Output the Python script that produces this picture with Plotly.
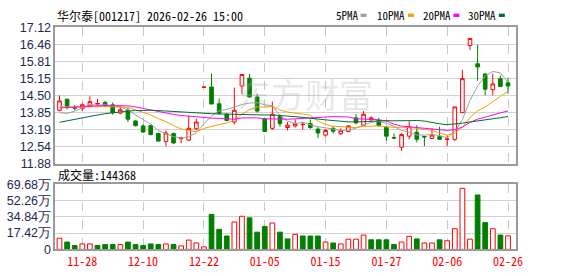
import plotly.graph_objects as go
import pandas as pd

# ---------------- data ----------------
dates = ["11-25", "11-26", "11-27", "11-28", "12-01", "12-02", "12-03", "12-04", "12-05", "12-08",
         "12-09", "12-10", "12-11", "12-12", "12-15", "12-16", "12-17", "12-18", "12-19", "12-22",
         "12-23", "12-24", "12-25", "12-26", "12-29", "12-30", "12-31", "01-05", "01-06", "01-07",
         "01-08", "01-09", "01-12", "01-13", "01-14", "01-15", "01-16", "01-19", "01-20", "01-21",
         "01-22", "01-23", "01-26", "01-27", "01-28", "01-29", "01-30", "02-02", "02-03", "02-04",
         "02-05", "02-06", "02-09", "02-10", "02-11", "02-12", "02-13", "02-24", "02-25", "02-26"]

open_ = [13.94, 14.36, 14.06, 14.00, 14.11, 14.18, 14.24, 14.15, 13.83, 13.94,
         13.53, 13.34, 13.36, 13.05, 12.75, 13.05, 12.86, 12.80, 13.23, 14.82,
         14.83, 14.19, 13.79, 13.49, 14.87, 15.17, 14.45, 13.61, 13.25, 13.70,
         13.28, 13.34, 13.39, 13.43, 13.22, 12.99, 13.25, 13.04, 13.13, 13.65,
         13.37, 13.58, 13.55, 13.29, 12.89, 12.53, 12.95, 13.10, 12.94, 12.86,
         12.93, 12.82, 12.83, 13.85, 16.42, 15.72, 15.33, 14.73, 15.15, 14.99]
high = [14.51, 14.39, 14.15, 14.21, 14.47, 14.37, 14.31, 14.24, 14.12, 14.03,
        13.56, 13.40, 13.40, 13.08, 13.17, 13.08, 12.93, 13.73, 13.61, 14.83,
        15.35, 14.39, 13.82, 14.81, 15.31, 15.33, 14.57, 13.62, 14.27, 13.79,
        13.49, 13.59, 13.49, 13.59, 13.29, 13.22, 13.35, 13.25, 13.37, 13.79,
        13.91, 13.71, 13.65, 13.33, 13.05, 13.07, 13.52, 13.37, 12.95, 13.25,
        13.31, 12.98, 14.07, 15.49, 16.69, 16.45, 15.35, 15.35, 15.27, 15.19]
low = [13.90, 13.97, 13.94, 13.91, 14.07, 14.11, 14.06, 13.77, 13.79, 13.49,
       13.33, 13.07, 12.98, 12.74, 12.56, 12.64, 12.68, 12.77, 13.17, 14.82,
       14.18, 13.77, 13.52, 13.40, 14.55, 14.42, 13.85, 13.11, 13.19, 13.31,
       13.17, 13.28, 13.19, 13.23, 12.88, 12.93, 13.05, 13.01, 13.10, 13.40,
       13.35, 13.52, 13.33, 12.77, 12.83, 12.38, 12.83, 12.71, 12.57, 12.85,
       12.82, 12.57, 12.77, 13.85, 16.25, 15.07, 14.51, 14.51, 14.85, 14.57]
close = [14.30, 14.06, 14.02, 14.15, 14.27, 14.20, 14.11, 13.85, 13.96, 13.60,
         13.35, 13.11, 13.01, 12.76, 13.07, 12.69, 12.87, 13.25, 13.49, 14.83,
         14.18, 13.83, 13.55, 13.94, 15.31, 14.45, 13.91, 13.13, 13.79, 13.43,
         13.37, 13.43, 13.40, 13.28, 13.07, 13.17, 13.14, 13.16, 13.34, 13.46,
         13.79, 13.65, 13.35, 12.95, 12.88, 13.01, 13.31, 12.83, 12.92, 12.99,
         12.83, 12.84, 14.07, 15.15, 16.69, 15.60, 14.75, 14.95, 14.85, 14.87]
# volume in 万 (10k lots)
volume = [11.9, 7.8, 4.1, 5.8, 5.8, 4.1, 5.1, 5.1, 5.1, 7.8,
          5.1, 4.1, 5.8, 5.1, 5.8, 5.1, 3.7, 9.9, 6.8, 2.7,
          37.4, 21.4, 14.3, 29.3, 35.4, 33.7, 18.4, 24.5, 28.2, 18.4,
          11.2, 16.0, 14.3, 14.3, 14.3, 7.8, 6.8, 5.8, 10.9, 10.9,
          15.3, 10.2, 10.2, 10.2, 5.1, 7.8, 13.9, 11.2, 6.8, 6.8,
          10.2, 9.2, 22.1, 65.3, 10.9, 58.2, 28.6, 22.1, 15.3, 14.4368]

# MA values at the start whose window begins before the visible range
ma5_head = [13.85, 13.82, 13.91, 14.03]
ma10_head = [14.08, 14.07, 14.06, 14.06, 14.07, 14.08, 14.08, 14.07, 14.06]
ma20_head = [14.03, 14.05, 14.07, 14.09, 14.10, 14.11, 14.12, 14.12, 14.12, 14.11,
             14.07, 14.01, 13.95, 13.89, 13.83, 13.78, 13.74, 13.71, 13.68]
ma30_head = [13.48, 13.54, 13.60, 13.65, 13.71, 13.76, 13.81, 13.85, 13.88, 13.91,
             13.93, 13.94, 13.94, 13.93, 13.91, 13.89, 13.87, 13.85, 13.83, 13.82,
             13.81, 13.80, 13.79, 13.78, 13.78, 13.78, 13.77, 13.76, 13.76]

price_ticks = ["11.88", "12.54", "13.19", "13.85", "14.50", "15.15", "15.81", "16.46", "17.12"]
vol_ticks = ["0", "17.42万", "34.84万", "52.26万", "69.68万"]
date_ticks = ["11-28", "12-10", "12-22", "01-05", "01-15", "01-27", "02-06", "02-26"]
title_text = "华尔泰[001217] 2026-02-26 15:00"
vol_title = "成交量:144368"
ma_names = ["5PMA", "10PMA", "20PMA", "30PMA"]

# ---------------- styling ----------------
W, H = 578, 276
RED = "#ff0000"
GREEN = "#008000"
MA_COLORS = ["#a0a0a0", "#f5a000", "#ff00ff", "#006e2e"]
MONO = "Noto Sans Mono CJK SC, Liberation Mono, monospace"
SANS = "Liberation Sans, Arial, sans-serif"

x = list(range(len(dates)))


def moving_avg(n, head):
    s = pd.Series(close).rolling(n).mean().tolist()
    return list(head) + s[len(head):]


mas = [moving_avg(5, ma5_head), moving_avg(10, ma10_head),
       moving_avg(20, ma20_head), moving_avg(30, ma30_head)]

# volume direction: close vs previous close
vol_up = []
for i in range(len(close)):
    prev = close[i - 1] if i > 0 else open_[i]
    vol_up.append(close[i] >= prev)

fig = go.Figure()

fig.add_trace(go.Candlestick(
    x=x, open=open_, high=high, low=low, close=close,
    increasing=dict(line=dict(color=RED, width=1), fillcolor="white"),
    decreasing=dict(line=dict(color=GREEN, width=1), fillcolor=GREEN),
    whiskerwidth=0, xaxis="x", yaxis="y", showlegend=False, hoverinfo="skip"))

for m, c in zip(mas, MA_COLORS):
    fig.add_trace(go.Scatter(x=x, y=m, mode="lines", line=dict(color=c, width=1),
                             xaxis="x", yaxis="y", showlegend=False, hoverinfo="skip"))

fig.add_trace(go.Bar(
    x=x, y=volume, width=0.62,
    marker=dict(color=["white" if u else GREEN for u in vol_up],
                line=dict(color=[RED if u else GREEN for u in vol_up], width=1)),
    xaxis="x2", yaxis="y2", showlegend=False, hoverinfo="skip"))

# layout geometry (pixels -> paper)
px_l, px_r = 56, 522.7
price_top, price_bot = 21.3, 165.5
vol_top, vol_bot = 186.7, 255.3
xd = [px_l / W, px_r / W]
tickpos = [dates.index(d) for d in date_ticks]
xrange_ = [-0.55, 60.1]

axis_common = dict(showline=True, mirror=True, linecolor="#9a9a9a", linewidth=1.5,
                   zeroline=False, ticks="")

fig.update_layout(
    width=W, height=H, margin=dict(l=0, r=0, t=0, b=0),
    paper_bgcolor="white", plot_bgcolor="white", showlegend=False,
    bargap=0.3, boxgap=0.32,
    xaxis=dict(domain=xd, range=xrange_, tickvals=tickpos, ticktext=[""] * len(tickpos),
               showgrid=True, gridcolor="#c8c8c8", griddash="dash", gridwidth=1,
               rangeslider=dict(visible=False), anchor="y", **axis_common),
    yaxis=dict(domain=[1 - price_bot / H, 1 - price_top / H], range=[11.88, 17.12],
               tickvals=[float(t) for t in price_ticks], ticktext=price_ticks,
               showgrid=True, gridcolor="#d2d2d2", gridwidth=1, anchor="x",
               tickfont=dict(family=SANS, size=12.5, color="#1a2a50"), **axis_common),
    xaxis2=dict(domain=xd, range=xrange_, tickvals=tickpos, ticktext=date_ticks,
                showgrid=True, gridcolor="#c8c8c8", griddash="dash", gridwidth=1,
                tickfont=dict(family=MONO, size=12, color=RED), anchor="y2",
                matches="x", **axis_common),
    yaxis2=dict(domain=[1 - vol_bot / H, 1 - vol_top / H], range=[0, 69.68],
                tickvals=[0, 17.42, 34.84, 52.26, 69.68], ticktext=vol_ticks,
                showgrid=True, gridcolor="#d2d2d2", gridwidth=1, anchor="x2",
                tickfont=dict(family=SANS, size=12.5, color="#1a2a50"), **axis_common),
)

ann = []
ann.append(dict(text=title_text, x=56 / W, y=1 - 8.5 / H, xref="paper", yref="paper",
                xanchor="left", yanchor="middle", showarrow=False,
                font=dict(family=MONO, size=12, color="#000")))
ann.append(dict(text=vol_title, x=57 / W, y=1 - 176 / H, xref="paper", yref="paper",
                xanchor="left", yanchor="middle", showarrow=False,
                font=dict(family=MONO, size=12, color="#000")))
# watermark
ann.append(dict(text="东方财富", x=309 / W, y=1 - 91 / H, xref="paper", yref="paper",
                xanchor="center", yanchor="middle", showarrow=False,
                font=dict(family="Noto Sans CJK SC", size=34, color="rgba(170,170,185,0.28)")))

legend_x = [338, 380, 426, 472]
swatch_x = [365, 413, 459, 505]
shapes = []
for name, lx, sx, c in zip(ma_names, legend_x, swatch_x, MA_COLORS):
    ann.append(dict(text=name, x=lx / W, y=1 - 8.5 / H, xref="paper", yref="paper",
                    xanchor="left", yanchor="middle", showarrow=False,
                    font=dict(family=MONO, size=11, color="#000")))
    shapes.append(dict(type="rect", xref="paper", yref="paper",
                       x0=sx / W, x1=(sx + 6) / W, y0=1 - 10.5 / H, y1=1 - 7 / H,
                       fillcolor=c, line=dict(width=0)))

fig.update_layout(annotations=ann, shapes=shapes)
fig.write_html("out.html")
